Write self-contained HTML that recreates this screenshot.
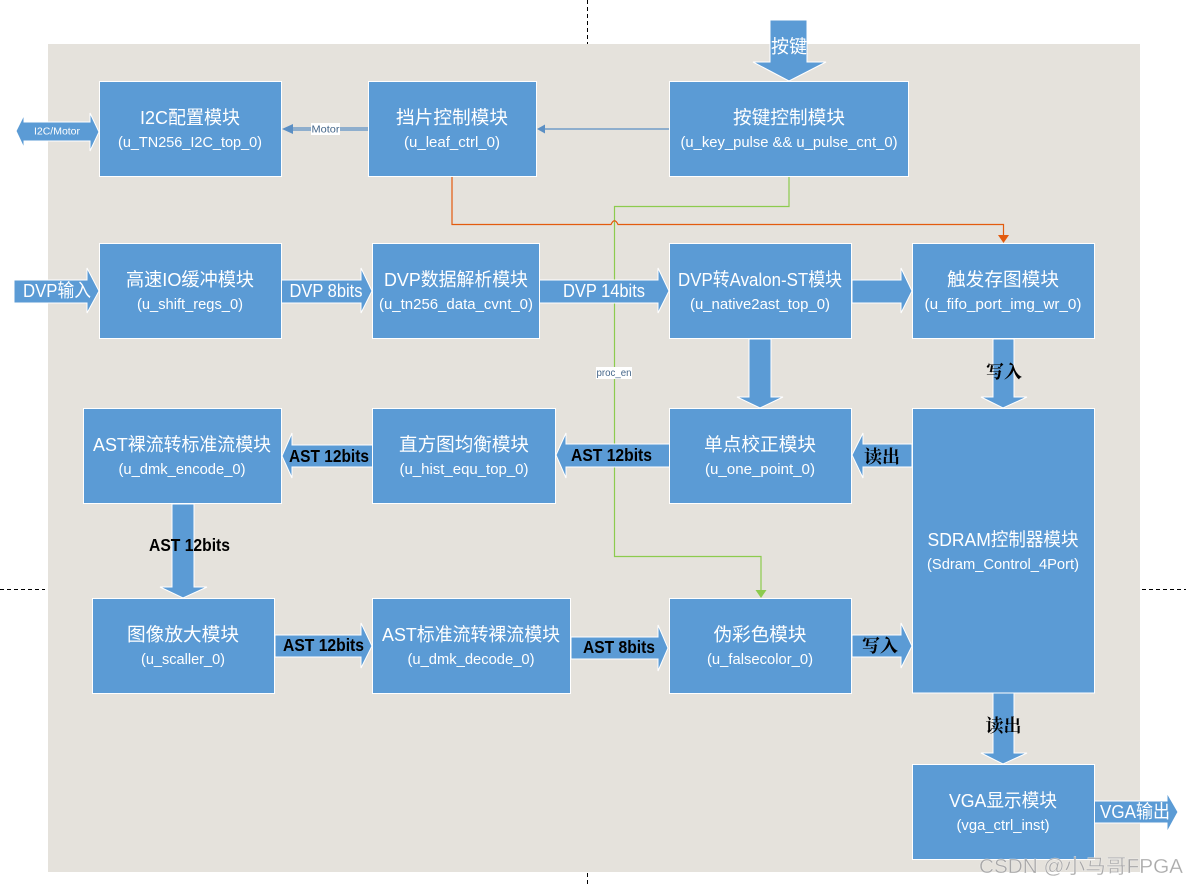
<!DOCTYPE html>
<html>
<head>
<meta charset="utf-8">
<style>
html,body{margin:0;padding:0;background:#fff;width:1186px;height:886px;overflow:hidden}
svg{display:block}
text{font-family:"Liberation Sans","Noto Sans CJK SC",sans-serif;text-anchor:middle}
.b{fill:#5b9bd5;stroke:#fff;stroke-width:1}
.a{fill:#5b9bd5;stroke:#fff;stroke-width:1}
.t{font-size:18.500px;fill:#fff}
.s{font-size:14.500px;fill:#fff}
.w{font-size:18.500px;fill:#fff}
.k{font-size:17.500px;font-weight:bold;fill:#000}
.c{font-size:18px;fill:#000;font-weight:bold;font-family:"Liberation Serif","Noto Serif CJK SC",serif}
</style>
</head>
<body>
<svg width="1186" height="886" viewBox="0 0 1186 886" xmlns="http://www.w3.org/2000/svg">
<rect width="1186" height="886" fill="#fff"/>
<g stroke="#000" stroke-width="1" stroke-dasharray="4 3" fill="none">
<path d="M587.5 0V44"/><path d="M587.5 873V886"/><path d="M0 589.5H45"/><path d="M1142 589.5H1186"/>
</g>
<rect x="48" y="44" width="1092" height="828" fill="#e5e2dc"/>

<!-- connectors -->
<g fill="none" stroke-width="1.2">
<path d="M670 129H545" stroke="#5b8fc4"/>
<path d="M369 128H293M369 130H293" stroke="#5b8fc4"/>
<path d="M789 176V206.500H614.500V556.500H761V590" stroke="#8ccb4e"/>
<path d="M452 176V224.500H611Q614.500 217 618 224.500H1003.500V235" stroke="#e35b0e"/>
</g>
<polygon points="537,129 545,124.500 545,133.500" fill="#5b8fc4"/>
<polygon points="282,129 293,124 293,134" fill="#5b8fc4"/>
<polygon points="1003.500,243 998,235 1009,235" fill="#e35b0e"/>
<polygon points="761,598 755.500,590 766.500,590" fill="#8ccb4e"/>

<!-- block arrows -->
<polygon class="a" points="16,131 24,115 24,122 90,122 90,113 99,132 90,151 90,141 24,141 24,148"/>
<polygon class="a" points="770,20 807,20 807,62 826,62 789,81 753,62 770,62"/>
<polygon class="a" points="14,280 87,280 87,268 99,291 87,313 87,303 14,303"/>
<polygon class="a" points="280,280 361,280 361,268 372,291 361,313 361,303 280,303"/>
<polygon class="a" points="538,280 658,280 658,268 669,291 658,313 658,303 538,303"/>
<polygon class="a" points="852,280 901,280 901,268 912,291 901,313 901,303 852,303"/>
<polygon class="a" points="749,339 771,339 771,397 783,397 760,408 737,397 749,397"/>
<polygon class="a" points="993,339 1014,339 1014,397 1027,397 1003,408 981,397 993,397"/>
<polygon class="a" points="912,444 912,467 863,467 863,478 852,455 863,433 863,444"/>
<polygon class="a" points="670,444 670,467 566,467 566,478 556,455 566,433 566,444"/>
<polygon class="a" points="373,445 373,467 292,467 292,478 282,456 292,433 292,445"/>
<polygon class="a" points="172,504 194,504 194,587 207,587 183,598 160,587 172,587"/>
<polygon class="a" points="275,635 361,635 361,623 372,646 361,668 361,657 275,657"/>
<polygon class="a" points="571,637 658,637 658,625 668,648 658,671 658,659 571,659"/>
<polygon class="a" points="852,635 901,635 901,623 912,646 901,668 901,657 852,657"/>
<polygon class="a" points="993,693 1014,693 1014,753 1027,753 1003,764 981,753 993,753"/>
<polygon class="a" points="1093,801 1167,801 1167,793 1178,812 1167,832 1167,823 1093,823"/>

<!-- boxes -->
<rect class="b" x="99.500" y="81.500" width="182" height="95"/>
<rect class="b" x="368.500" y="81.500" width="168" height="95"/>
<rect class="b" x="669.500" y="81.500" width="239" height="95"/>
<rect class="b" x="99.500" y="243.500" width="182" height="95"/>
<rect class="b" x="372.500" y="243.500" width="167" height="95"/>
<rect class="b" x="669.500" y="243.500" width="182" height="95"/>
<rect class="b" x="912.500" y="243.500" width="182" height="95"/>
<rect class="b" x="83.500" y="408.500" width="198" height="95"/>
<rect class="b" x="372.500" y="408.500" width="183" height="95"/>
<rect class="b" x="669.500" y="408.500" width="182" height="95"/>
<rect class="b" x="912.500" y="408.500" width="182" height="284.500"/>
<rect class="b" x="92.500" y="598.500" width="182" height="95"/>
<rect class="b" x="372.500" y="598.500" width="198" height="95"/>
<rect class="b" x="669.500" y="598.500" width="182" height="95"/>
<rect class="b" x="912.500" y="764.500" width="182" height="95"/>

<!-- box text -->
<text class="t" x="190" y="124" textLength="100" lengthAdjust="spacingAndGlyphs">I2C配置模块</text>
<text class="s" x="190" y="147" textLength="144" lengthAdjust="spacingAndGlyphs">(u_TN256_I2C_top_0)</text>
<text class="t" x="452" y="124" textLength="112" lengthAdjust="spacingAndGlyphs">挡片控制模块</text>
<text class="s" x="452" y="147" textLength="96" lengthAdjust="spacingAndGlyphs">(u_leaf_ctrl_0)</text>
<text class="t" x="789" y="124" textLength="112" lengthAdjust="spacingAndGlyphs">按键控制模块</text>
<text class="s" x="789" y="147" textLength="217" lengthAdjust="spacingAndGlyphs">(u_key_pulse &amp;&amp; u_pulse_cnt_0)</text>

<text class="t" x="190" y="286" textLength="128" lengthAdjust="spacingAndGlyphs">高速IO缓冲模块</text>
<text class="s" x="190" y="309" textLength="106" lengthAdjust="spacingAndGlyphs">(u_shift_regs_0)</text>
<text class="t" x="456" y="286" textLength="144" lengthAdjust="spacingAndGlyphs">DVP数据解析模块</text>
<text class="s" x="456" y="309" textLength="154" lengthAdjust="spacingAndGlyphs">(u_tn256_data_cvnt_0)</text>
<text class="t" x="760" y="286" textLength="164" lengthAdjust="spacingAndGlyphs">DVP转Avalon-ST模块</text>
<text class="s" x="760" y="309" textLength="140" lengthAdjust="spacingAndGlyphs">(u_native2ast_top_0)</text>
<text class="t" x="1003" y="286" textLength="112" lengthAdjust="spacingAndGlyphs">触发存图模块</text>
<text class="s" x="1003" y="309" textLength="157" lengthAdjust="spacingAndGlyphs">(u_fifo_port_img_wr_0)</text>

<text class="t" x="182" y="451" textLength="178" lengthAdjust="spacingAndGlyphs">AST裸流转标准流模块</text>
<text class="s" x="182" y="474" textLength="127" lengthAdjust="spacingAndGlyphs">(u_dmk_encode_0)</text>
<text class="t" x="464" y="451" textLength="130" lengthAdjust="spacingAndGlyphs">直方图均衡模块</text>
<text class="s" x="464" y="474" textLength="129" lengthAdjust="spacingAndGlyphs">(u_hist_equ_top_0)</text>
<text class="t" x="760" y="451" textLength="112" lengthAdjust="spacingAndGlyphs">单点校正模块</text>
<text class="s" x="760" y="474" textLength="110" lengthAdjust="spacingAndGlyphs">(u_one_point_0)</text>
<text class="t" x="1003" y="546" textLength="151" lengthAdjust="spacingAndGlyphs">SDRAM控制器模块</text>
<text class="s" x="1003" y="569" textLength="152" lengthAdjust="spacingAndGlyphs">(Sdram_Control_4Port)</text>

<text class="t" x="183" y="641" textLength="112" lengthAdjust="spacingAndGlyphs">图像放大模块</text>
<text class="s" x="183" y="664" textLength="84" lengthAdjust="spacingAndGlyphs">(u_scaller_0)</text>
<text class="t" x="471" y="641" textLength="178" lengthAdjust="spacingAndGlyphs">AST标准流转裸流模块</text>
<text class="s" x="471" y="664" textLength="127" lengthAdjust="spacingAndGlyphs">(u_dmk_decode_0)</text>
<text class="t" x="760" y="641" textLength="93" lengthAdjust="spacingAndGlyphs">伪彩色模块</text>
<text class="s" x="760" y="664" textLength="106" lengthAdjust="spacingAndGlyphs">(u_falsecolor_0)</text>
<text class="t" x="1003" y="807" textLength="108" lengthAdjust="spacingAndGlyphs">VGA显示模块</text>
<text class="s" x="1003" y="830" textLength="93" lengthAdjust="spacingAndGlyphs">(vga_ctrl_inst)</text>

<!-- arrow labels -->
<text x="57" y="134.500" font-size="10" fill="#fff" textLength="46" lengthAdjust="spacingAndGlyphs">I2C/Motor</text>
<rect x="311" y="123" width="29" height="12" fill="#fff"/>
<text x="325.500" y="132.500" font-size="10" fill="#44668a" textLength="28" lengthAdjust="spacingAndGlyphs">Motor</text>
<rect x="596" y="367" width="36" height="12" fill="#fff"/>
<text x="614" y="376" font-size="10" fill="#44668a" textLength="35" lengthAdjust="spacingAndGlyphs">proc_en</text>
<text class="w" x="789" y="53" textLength="36" lengthAdjust="spacingAndGlyphs">按键</text>
<text class="w" x="57" y="297" textLength="68" lengthAdjust="spacingAndGlyphs">DVP输入</text>
<text class="w" x="326" y="297" textLength="73" lengthAdjust="spacingAndGlyphs">DVP 8bits</text>
<text class="w" x="604" y="297" textLength="82" lengthAdjust="spacingAndGlyphs">DVP 14bits</text>
<text class="w" x="1135" y="818" textLength="70" lengthAdjust="spacingAndGlyphs">VGA输出</text>
<text class="k" x="329" y="462" textLength="80" lengthAdjust="spacingAndGlyphs">AST 12bits</text>
<text class="k" x="611.500" y="461" textLength="81" lengthAdjust="spacingAndGlyphs">AST 12bits</text>
<text class="k" x="189.500" y="551" textLength="81" lengthAdjust="spacingAndGlyphs">AST 12bits</text>
<text class="k" x="323.500" y="651" textLength="81" lengthAdjust="spacingAndGlyphs">AST 12bits</text>
<text class="k" x="619" y="653" textLength="72" lengthAdjust="spacingAndGlyphs">AST 8bits</text>
<text class="c" x="1004" y="378" textLength="36" lengthAdjust="spacingAndGlyphs">写入</text>
<text class="c" x="882" y="463" textLength="36" lengthAdjust="spacingAndGlyphs">读出</text>
<text class="c" x="880" y="652" textLength="36" lengthAdjust="spacingAndGlyphs">写入</text>
<text class="c" x="1003.500" y="732" textLength="36" lengthAdjust="spacingAndGlyphs">读出</text>

<!-- watermark -->
<text x="1081" y="873" font-size="20" fill="#a0a0a0" fill-opacity="0.9" stroke="#fff" stroke-width="0.5" stroke-opacity="0.6" textLength="204" lengthAdjust="spacingAndGlyphs">CSDN @小马哥FPGA</text>
</svg>
</body>
</html>
